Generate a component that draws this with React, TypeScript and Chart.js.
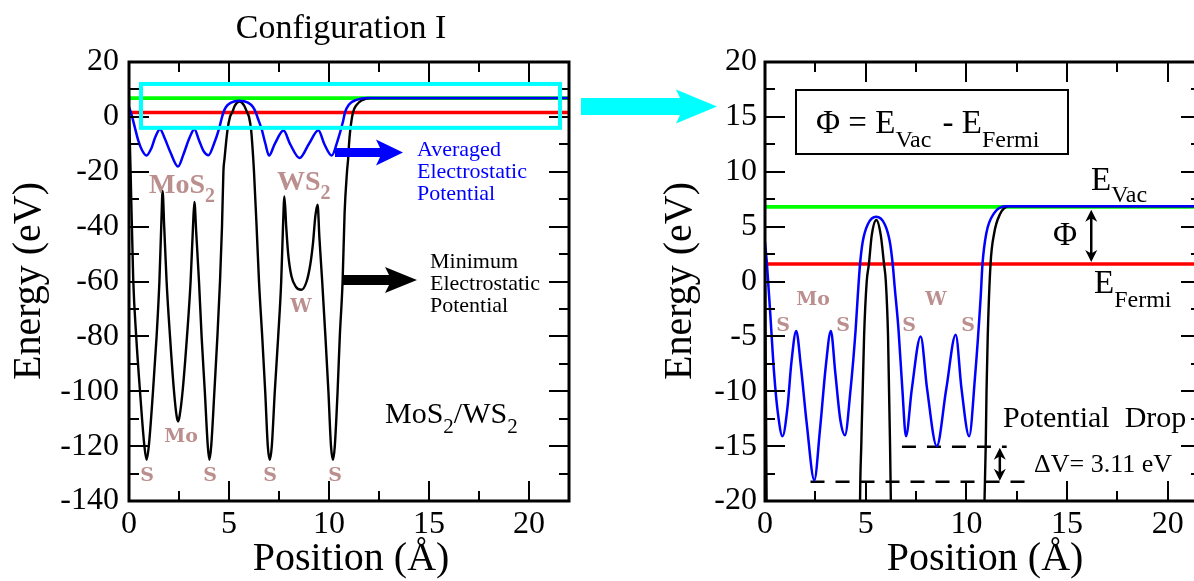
import React, { useEffect, useRef } from "react";
import { Chart, registerables } from "chart.js";

Chart.register(...registerables);

// ---------------- data ----------------
const blackPosition = [
  0, 0.08, 0.21, 0.36, 0.55, 0.77, 0.88, 0.99, 1.2, 1.38,
  1.52, 1.62, 1.68, 1.76, 1.88, 2.05, 2.25, 2.38, 2.45, 2.53,
  2.68, 2.9, 3.08, 3.2, 3.27, 3.36, 3.5, 3.63, 3.79, 3.94,
  4.02, 4.11, 4.27, 4.42, 4.55, 4.65, 4.72, 4.78, 4.92, 5.05,
  5.16, 5.3, 5.53, 5.75, 5.91, 6.0, 6.11, 6.21, 6.25, 6.38,
  6.5, 6.66, 6.81, 6.94, 7.04, 7.14, 7.29, 7.46, 7.61, 7.7,
  7.77, 7.86, 7.96, 8.12, 8.35, 8.62, 8.88, 9.06, 9.2, 9.32,
  9.43, 9.52, 9.66, 9.82, 9.97, 10.1, 10.2, 10.29, 10.43, 10.54,
  10.68, 10.78, 10.9, 10.96, 11.0, 11.06, 11.2, 11.38, 11.66, 12.1, 22,
];
const blackEnergy = [
  2.5, -20, -59, -80, -100, -120, -125, -120, -100, -80,
  -60, -38, -27, -40, -60, -80, -100, -109, -111, -109,
  -100, -80, -60, -40, -31, -42, -60, -80, -100, -120,
  -125, -120, -100, -80, -60, -40, -20, -15, -5, 0,
  1.6, 4.2, 5.6, 4.2, 1.6, 0, -5, -15, -20, -40,
  -60, -80, -100, -120, -125, -120, -100, -80, -60, -40,
  -29, -40, -50, -58, -62, -63, -60, -54, -46, -36,
  -32, -44, -60, -80, -100, -120, -125, -120, -100, -80,
  -60, -35, -20, -15, -10, -5, 1.6, 4.4, 6.1, 6.85, 6.85,
];
const bluePosition = [
  0, 0.1, 0.26, 0.45, 0.64, 0.87, 1.12, 1.31, 1.55, 1.78,
  2.07, 2.45, 2.73, 3.02, 3.27, 3.49, 3.74, 3.97, 4.25, 4.5,
  4.6, 4.72, 4.85, 5.1, 5.52, 5.95, 6.2, 6.34, 6.44, 6.63,
  6.82, 7.0, 7.29, 7.73, 8.05, 8.53, 9.0, 9.47, 9.76, 10.14,
  10.42, 10.71, 10.8, 10.99, 11.37, 11.94, 22,
];
const blueEnergy = [
  3.6, 1.5, -2.9, -8.3, -12, -14.1, -11.4, -7.4, -4.5, -7.7,
  -12.9, -18.1, -13.5, -7.7, -4.5, -8.3, -12.6, -14.0, -9.8, -4.4,
  -1.5, 1.6, 3.6, 5.2, 5.9, 5.2, 3.6, 1.6, -0.5, -4.4,
  -9.8, -14.1, -9.8, -5.0, -9.8, -15.0, -9.8, -4.85, -9.8, -14.1,
  -8.9, -1.4, 1.6, 4.4, 6.2, 6.85, 6.85,
];
const vacuumLevel = 6.8;
const fermiLevel = 1.6;
const overviewXRange = [0, 22];
const overviewYRange = [-140, 20];
const detailXRange = [0, 21.65];
const detailYRange = [-20, 20];
const overviewXSteps = [5, 2.5];
const overviewYSteps = [20, 10];
const detailXSteps = [5, 2.5];
const detailYSteps = [5, 2.5];
const dropUpperLevel = -15.06;
const dropLowerLevel = -18.25;
const dropUpperSpan = [6.8, 12.0];
const dropLowerSpan = [2.26, 12.9];
const deltaVArrowPos = 11.66;
const phiArrowPos = 16.2;
const zoomWindowX = [0.6, 21.55];
const zoomWindowY = [-4, 12];

// ---------------- styling ----------------
const SERIF = "'Liberation Serif', 'Times New Roman', Times, serif";
const SLAB = "'DejaVu Serif', serif";
const ROSY = "#bc8f8f";
const R_OFF = 575;

const pts = (xs: number[], ys: number[]) => xs.map((x, i) => ({ x, y: ys[i] }));
const hline = (y: number, x0: number, x1: number) => [{ x: x0, y }, { x: x1, y }];

type Run = { t: string; size: number; bold?: boolean; dy?: number; dx?: number; family?: string };
function textRuns(ctx: CanvasRenderingContext2D, x: number, y: number, parts: Run[], color: string, align: "left" | "center" = "left") {
  ctx.save();
  ctx.fillStyle = color;
  ctx.textBaseline = "alphabetic";
  ctx.textAlign = "left";
  const f = (r: Run) => `${r.bold ? "bold " : ""}${r.size}px ${r.family || SERIF}`;
  let total = 0;
  for (const r of parts) {
    ctx.font = f(r);
    total += ctx.measureText(r.t).width + (r.dx || 0);
  }
  let cx = align === "center" ? x - total / 2 : x;
  for (const r of parts) {
    ctx.font = f(r);
    cx += r.dx || 0;
    ctx.fillText(r.t, cx, y + (r.dy || 0));
    cx += ctx.measureText(r.t).width;
  }
  ctx.restore();
}

function arrowRight(ctx: CanvasRenderingContext2D, x0: number, xHead: number, xTip: number, yc: number, sh: number, hh: number, color: string) {
  ctx.save();
  ctx.fillStyle = color;
  ctx.beginPath();
  ctx.moveTo(x0, yc - sh);
  ctx.lineTo(xHead, yc - sh);
  ctx.lineTo(xHead - 4, yc - hh);
  ctx.lineTo(xTip, yc);
  ctx.lineTo(xHead - 4, yc + hh);
  ctx.lineTo(xHead, yc + sh);
  ctx.lineTo(x0, yc + sh);
  ctx.closePath();
  ctx.fill();
  ctx.restore();
}

function doubleArrow(ctx: CanvasRenderingContext2D, x: number, y1: number, y2: number, head: number, half: number) {
  ctx.save();
  ctx.strokeStyle = "#000";
  ctx.fillStyle = "#000";
  ctx.lineWidth = 2.5;
  ctx.beginPath();
  ctx.moveTo(x, y1 + head * 0.6);
  ctx.lineTo(x, y2 - head * 0.6);
  ctx.stroke();
  ctx.beginPath();
  ctx.moveTo(x, y1);
  ctx.lineTo(x + half, y1 + head);
  ctx.lineTo(x, y1 + head * 0.7);
  ctx.lineTo(x - half, y1 + head);
  ctx.closePath();
  ctx.fill();
  ctx.beginPath();
  ctx.moveTo(x, y2);
  ctx.lineTo(x + half, y2 - head);
  ctx.lineTo(x, y2 - head * 0.7);
  ctx.lineTo(x - half, y2 - head);
  ctx.closePath();
  ctx.fill();
  ctx.restore();
}

const frameTicks = (xs: number[], ys: number[]) => ({
  id: "frameTicks",
  afterDatasetsDraw(chart: any) {
    const { ctx, chartArea: a, scales } = chart;
    const sx = scales.x, sy = scales.y;
    const eps = 1e-6;
    ctx.save();
    ctx.strokeStyle = "#000";
    ctx.lineWidth = 2;
    ctx.beginPath();
    const x0 = Math.ceil(sx.min / xs[1] - eps) * xs[1];
    for (let i = 0; ; i++) {
      const v = x0 + i * xs[1];
      if (v > sx.max + eps) break;
      const p = Math.round(sx.getPixelForValue(v));
      const major = Math.abs(v / xs[0] - Math.round(v / xs[0])) < eps;
      const L = major ? 20 : 10;
      ctx.moveTo(p, a.bottom);
      ctx.lineTo(p, a.bottom - L);
      ctx.moveTo(p, a.top);
      ctx.lineTo(p, a.top + L);
    }
    const y0 = Math.ceil(sy.min / ys[1] - eps) * ys[1];
    for (let i = 0; ; i++) {
      const v = y0 + i * ys[1];
      if (v > sy.max + eps) break;
      const p = Math.round(sy.getPixelForValue(v));
      const major = Math.abs(v / ys[0] - Math.round(v / ys[0])) < eps;
      const L = major ? 20 : 10;
      ctx.moveTo(a.left, p);
      ctx.lineTo(a.left + L, p);
      ctx.moveTo(a.right, p);
      ctx.lineTo(a.right - L, p);
    }
    ctx.stroke();
    ctx.lineWidth = 3;
    ctx.strokeRect(a.left, a.top, a.right - a.left, a.bottom - a.top);
    ctx.restore();
  },
});

function scaleOpts(range: number[], step: number, fit: (s: any) => void, pad: number) {
  return {
    type: "linear",
    min: range[0],
    max: range[1],
    afterFit: fit,
    grid: { display: false, drawTicks: false },
    border: { display: false },
    ticks: {
      stepSize: step,
      includeBounds: false,
      autoSkip: false,
      maxRotation: 0,
      padding: pad,
      color: "#000",
      font: { family: SERIF, size: 32 },
      callback: (v: number) => String(v),
    },
  };
}

const lineDs = (data: any[], color: string, width: number, extra: any = {}) => ({
  data,
  borderColor: color,
  borderWidth: width,
  pointRadius: 0,
  fill: false,
  tension: 0,
  ...extra,
});

function overviewConfig(): any {
  const annotations = {
    id: "overviewNotes",
    afterDraw(chart: any) {
      const { ctx, scales } = chart;
      const sx = scales.x, sy = scales.y;
      // zoom window
      ctx.save();
      ctx.strokeStyle = "#00ffff";
      ctx.lineWidth = 4;
      const wx0 = sx.getPixelForValue(zoomWindowX[0]);
      const wx1 = sx.getPixelForValue(zoomWindowX[1]);
      const wy0 = sy.getPixelForValue(zoomWindowY[1]);
      const wy1 = sy.getPixelForValue(zoomWindowY[0]);
      ctx.strokeRect(wx0, wy0, wx1 - wx0, wy1 - wy0);
      ctx.restore();
      // title & axis titles
      textRuns(ctx, 341, 38, [{ t: "Configuration I", size: 34 }], "#000", "center");
      textRuns(ctx, 351, 570, [{ t: "Position (Å)", size: 40 }], "#000", "center");
      ctx.save();
      ctx.translate(29, 281);
      ctx.rotate(-Math.PI / 2);
      ctx.font = `40px ${SERIF}`;
      ctx.fillStyle = "#000";
      ctx.textAlign = "center";
      ctx.textBaseline = "middle";
      ctx.fillText("Energy (eV)", 0, 0);
      ctx.restore();
      // arrows
      arrowRight(ctx, 335, 380, 403, 152.5, 4.5, 13, "#0000ff");
      arrowRight(ctx, 342, 389, 417, 280, 5, 13, "#000");
      // legends text
      const blueLines = ["Averaged", "Electrostatic", "Potential"];
      blueLines.forEach((t, i) => textRuns(ctx, 417, 156 + i * 22, [{ t, size: 22 }], "#0000ff"));
      const blackLines = ["Minimum", "Electrostatic", "Potential"];
      blackLines.forEach((t, i) => textRuns(ctx, 430, 268 + i * 22, [{ t, size: 22 }], "#000"));
      // layer labels
      textRuns(ctx, 149, 193, [{ t: "MoS", size: 28, bold: true }, { t: "2", size: 20, bold: true, dy: 9 }], ROSY);
      textRuns(ctx, 277, 190, [{ t: "WS", size: 28, bold: true }, { t: "2", size: 20, bold: true, dy: 9 }], ROSY);
      textRuns(ctx, 301, 312, [{ t: "W", size: 19, bold: true, family: SLAB }], ROSY, "center");
      textRuns(ctx, 181, 442, [{ t: "Mo", size: 19, bold: true, family: SLAB }], ROSY, "center");
      [147, 210, 270, 335].forEach((x) => textRuns(ctx, x, 481, [{ t: "S", size: 19, bold: true, family: SLAB }], ROSY, "center"));
      textRuns(
        ctx, 385, 423,
        [
          { t: "MoS", size: 30 },
          { t: "2", size: 21, dy: 10 },
          { t: "/WS", size: 30 },
          { t: "2", size: 21, dy: 10 },
        ],
        "#000"
      );
    },
  };
  return {
    type: "line",
    data: {
      datasets: [
        lineDs(pts(bluePosition, blueEnergy), "#0000ff", 2.5, { cubicInterpolationMode: "monotone" }),
        lineDs(pts(blackPosition, blackEnergy), "#000000", 2.4, { cubicInterpolationMode: "monotone" }),
        lineDs(hline(fermiLevel, overviewXRange[0], overviewXRange[1]), "#ff0000", 3.6),
        lineDs(hline(vacuumLevel, overviewXRange[0], overviewXRange[1]), "#00ff00", 3.8),
      ],
    },
    options: {
      responsive: false,
      animation: false,
      events: [],
      layout: { padding: { left: 0, top: 62, right: 31, bottom: 0 } },
      plugins: { legend: { display: false }, tooltip: { enabled: false }, title: { display: false } },
      scales: {
        x: scaleOpts(overviewXRange, overviewXSteps[0], (s: any) => { s.height = 80; }, 4),
        y: scaleOpts(overviewYRange, overviewYSteps[0], (s: any) => { s.width = 129; }, 10),
      },
    },
    plugins: [frameTicks(overviewXSteps, overviewYSteps), annotations],
  };
}

function detailConfig(): any {
  const L = (px: number) => px - R_OFF;
  const annotations = {
    id: "detailNotes",
    afterDraw(chart: any) {
      const { ctx, scales } = chart;
      const sx = scales.x, sy = scales.y;
      // cyan arrow coming from the overview
      arrowRight(ctx, L(581), L(680), L(717), 106.5, 8.5, 17, "#00ffff");
      // axis titles
      textRuns(ctx, L(985), 570, [{ t: "Position (Å)", size: 40 }], "#000", "center");
      ctx.save();
      ctx.translate(L(680), 281);
      ctx.rotate(-Math.PI / 2);
      ctx.font = `40px ${SERIF}`;
      ctx.fillStyle = "#000";
      ctx.textAlign = "center";
      ctx.textBaseline = "middle";
      ctx.fillText("Energy (eV)", 0, 0);
      ctx.restore();
      // formula box
      ctx.save();
      ctx.strokeStyle = "#000";
      ctx.lineWidth = 2;
      ctx.strokeRect(L(796), 90, 272, 64);
      ctx.restore();
      textRuns(
        ctx, L(816), 133,
        [
          { t: "Φ = E", size: 33 },
          { t: "Vac", size: 24, dy: 14 },
          { t: " - E", size: 33, dx: 3 },
          { t: "Fermi", size: 24, dy: 14 },
        ],
        "#000"
      );
      // level labels
      textRuns(ctx, L(1091), 190, [{ t: "E", size: 33 }, { t: "Vac", size: 24, dy: 12 }], "#000");
      textRuns(ctx, L(1094), 293, [{ t: "E", size: 33 }, { t: "Fermi", size: 24, dy: 14 }], "#000");
      textRuns(ctx, L(1053), 245, [{ t: "Φ", size: 33 }], "#000");
      const ax = sx.getPixelForValue(phiArrowPos);
      doubleArrow(ctx, ax, sy.getPixelForValue(vacuumLevel) + 3, sy.getPixelForValue(fermiLevel) - 2, 12, 6);
      const dx = sx.getPixelForValue(deltaVArrowPos);
      doubleArrow(ctx, dx, sy.getPixelForValue(dropUpperLevel) + 1, sy.getPixelForValue(dropLowerLevel) - 1, 12, 6);
      // atom labels
      const lab = (t: string, x: number, y: number) =>
        textRuns(ctx, L(x), y, [{ t, size: 19, bold: true, family: SLAB }], ROSY, "center");
      lab("Mo", 813, 305);
      lab("W", 936, 305);
      [783, 843, 909, 968].forEach((x) => lab("S", x, 331));
      textRuns(ctx, L(1003), 427, [{ t: "Potential  Drop", size: 30 }], "#000");
      textRuns(ctx, L(1034), 472, [{ t: "ΔV= 3.11 eV", size: 26 }], "#000");
    },
  };
  return {
    type: "line",
    data: {
      datasets: [
        lineDs(pts(bluePosition, blueEnergy), "#0000ff", 2.5, { cubicInterpolationMode: "monotone" }),
        lineDs(pts(blackPosition, blackEnergy), "#000000", 2.4, { cubicInterpolationMode: "monotone" }),
        lineDs(hline(dropUpperLevel, dropUpperSpan[0], dropUpperSpan[1]), "#000000", 2.5, { borderDash: [14, 11] }),
        lineDs(hline(dropLowerLevel, dropLowerSpan[0], dropLowerSpan[1]), "#000000", 2.5, { borderDash: [14, 11] }),
        lineDs(hline(fermiLevel, detailXRange[0], detailXRange[1]), "#ff0000", 3.6),
        lineDs(hline(vacuumLevel, detailXRange[0], detailXRange[1]), "#00ff00", 3.8),
      ],
    },
    options: {
      responsive: false,
      animation: false,
      events: [],
      layout: { padding: { left: 0, top: 62, right: 39, bottom: 0 } },
      plugins: { legend: { display: false }, tooltip: { enabled: false }, title: { display: false } },
      scales: {
        x: scaleOpts(detailXRange, detailXSteps[0], (s: any) => { s.height = 80; }, 4),
        y: scaleOpts(detailYRange, detailYSteps[0], (s: any) => { s.width = 190; }, 8),
      },
    },
    plugins: [frameTicks(detailXSteps, detailYSteps), annotations],
  };
}

export default function App() {
  const leftRef = useRef<HTMLCanvasElement>(null);
  const rightRef = useRef<HTMLCanvasElement>(null);
  useEffect(() => {
    const c1 = new Chart(leftRef.current as HTMLCanvasElement, overviewConfig());
    const c2 = new Chart(rightRef.current as HTMLCanvasElement, detailConfig());
    return () => {
      c1.destroy();
      c2.destroy();
    };
  }, []);
  return (
    <div style={{ position: "absolute", left: 0, top: 0, width: 1194, height: 581, overflow: "hidden", background: "#fff" }}>
      <canvas ref={leftRef} width={600} height={581} style={{ position: "absolute", left: 0, top: 0 }} />
      <canvas ref={rightRef} width={665} height={581} style={{ position: "absolute", left: R_OFF, top: 0 }} />
    </div>
  );
}
